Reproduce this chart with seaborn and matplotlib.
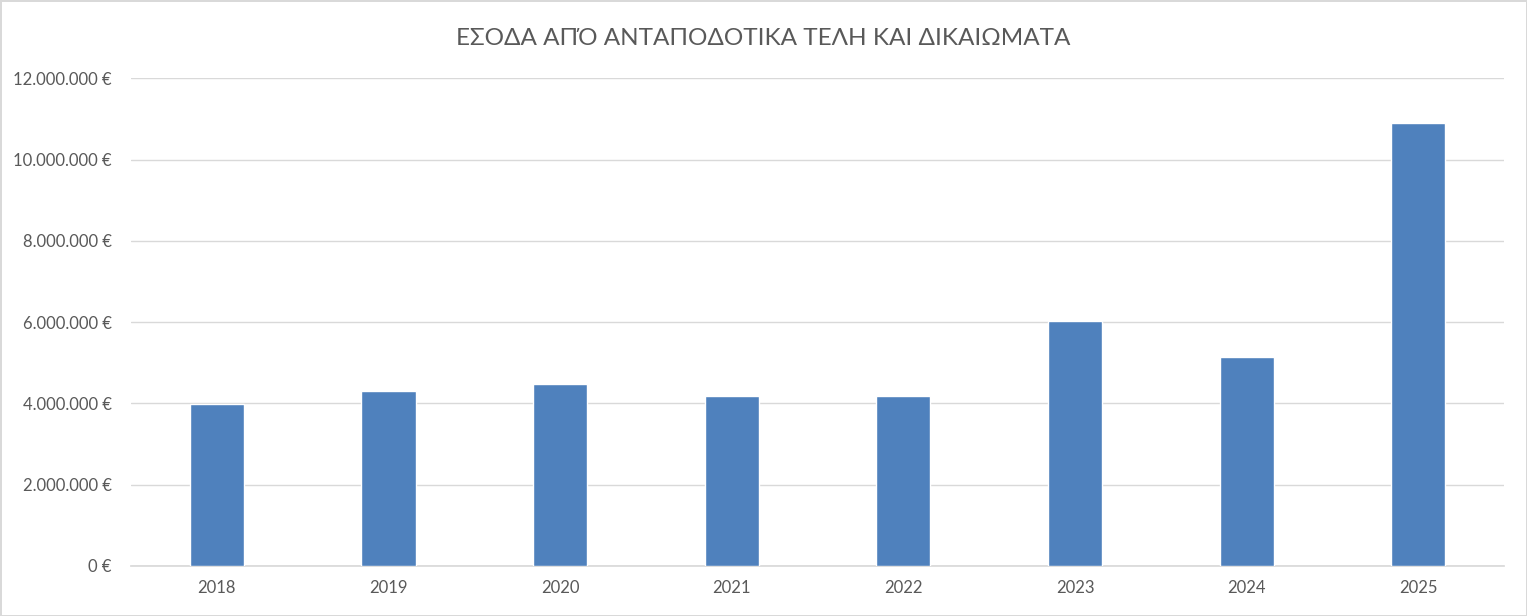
import matplotlib
matplotlib.use("Agg")
import matplotlib.pyplot as plt
import seaborn as sns
import pandas as pd
from matplotlib.ticker import FuncFormatter, MultipleLocator

years = ["2018", "2019", "2020", "2021", "2022", "2023", "2024", "2025"]
revenue = [3980000, 4300000, 4470000, 4180000, 4180000, 6030000, 5140000, 10890000]
title = "ΕΣΟΔΑ ΑΠΌ ΑΝΤΑΠΟΔΟΤΙΚΑ ΤΕΛΗ ΚΑΙ ΔΙΚΑΙΩΜΑΤΑ"

df = pd.DataFrame({"year": years, "revenue": revenue})

sns.set_theme(style="white")
plt.rcParams["font.family"] = ["Lato", "DejaVu Sans"]

text_color = "#595959"
fig = plt.figure(figsize=(15.27, 6.16), dpi=100)
ax = fig.add_axes([0.0858, 0.0812, 0.8992, 0.7918])

sns.barplot(data=df, x="year", y="revenue", color="#4F81BD", width=0.315,
            saturation=1, ax=ax, zorder=3)

ax.set_ylim(0, 12000000)
ax.set_xlim(-0.5, len(years) - 0.5)
ax.yaxis.set_major_locator(MultipleLocator(2000000))
ax.yaxis.set_major_formatter(FuncFormatter(lambda v, p: f"{int(v):,}".replace(",", ".") + " €"))
ax.grid(axis="y", color="#D9D9D9", linewidth=1, zorder=0)
ax.set_axisbelow(True)
for s in ["top", "right", "left"]:
    ax.spines[s].set_visible(False)
ax.spines["bottom"].set_color("#D9D9D9")
ax.set_xlabel("")
ax.set_ylabel("")
ax.tick_params(axis="both", length=0, labelsize=12, colors=text_color, pad=14)
ax.tick_params(axis="x", pad=10)

fig.suptitle(title, y=0.955, fontsize=17.5, color=text_color)

fig.patch.set_edgecolor("#D9D9D9")
fig.patch.set_linewidth(2)
fig.savefig("out.png", dpi=100, edgecolor=fig.get_edgecolor())
